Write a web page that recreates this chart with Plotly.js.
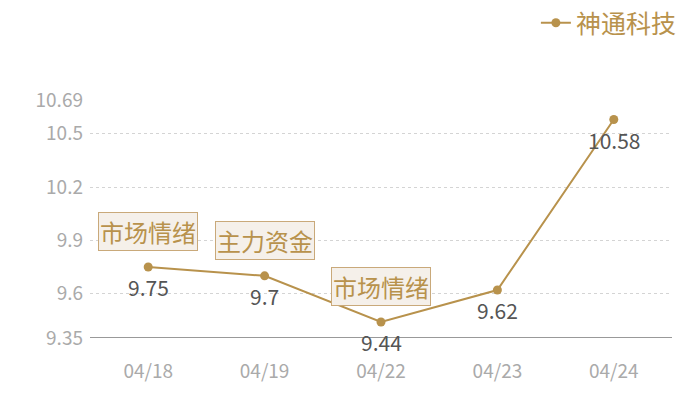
<!DOCTYPE html>
<html>
<head>
<meta charset="utf-8">
<script src="https://cdn.plot.ly/plotly-3.0.1.min.js"></script>
<style>html,body{margin:0;padding:0;background:#fff;}#chart{width:700px;height:400px;}</style>
</head>
<body>
<div id="chart"></div>
<script>
var dates = ["04/18", "04/19", "04/22", "04/23", "04/24"];
var prices = [9.75, 9.7, 9.44, 9.62, 10.58];
var seriesName = "神通科技";
var yTicks = [9.35, 9.6, 9.9, 10.2, 10.5, 10.69];
var noteDates = ["04/18", "04/19", "04/22"];
var noteValues = [9.75, 9.7, 9.44];
var noteTexts = ["市场情绪", "主力资金", "市场情绪"];

var gold = "#b8924c";
var font = "Noto Sans CJK SC, Noto Sans, sans-serif";

var trace = {
  x: dates, y: prices, name: seriesName,
  type: "scatter", mode: "lines+markers",
  line: {color: gold, width: 2},
  marker: {color: gold, size: 9},
  cliponaxis: false
};

var valueLabels = dates.map(function(d, i) {
  return {
    x: d, y: prices[i], xref: "x", yref: "y",
    text: String(prices[i]), showarrow: false,
    yanchor: "middle", yshift: -20,
    font: {color: "#555555", size: 21, family: font}
  };
});

var notes = noteDates.map(function(d, i) {
  return {
    x: d, y: noteValues[i], xref: "x", yref: "y",
    text: noteTexts[i], showarrow: false,
    yanchor: "bottom", yshift: 16,
    font: {color: gold, size: 24, family: font},
    bgcolor: "#f5f0ea", bordercolor: "#c9a97a", borderwidth: 1, borderpad: 1
  };
});

var layout = {
  width: 700, height: 400,
  margin: {l: 90, r: 28, t: 0, b: 62},
  paper_bgcolor: "#ffffff", plot_bgcolor: "#ffffff",
  font: {family: font},
  showlegend: true,
  legend: {x: 1.017, xanchor: "right", y: 1, yanchor: "top",
    font: {color: gold, size: 25, family: font}, bgcolor: "rgba(0,0,0,0)"},
  xaxis: {type: "category", range: [-0.5, 4.5], showgrid: false, zeroline: false,
    showline: false, ticks: "", ticklabelstandoff: 20,
    tickfont: {color: "#aaaaaa", size: 19, family: font}, fixedrange: true},
  yaxis: {domain: [0, 238 / 338], range: [9.35, 10.69], tickvals: yTicks, ticktext: yTicks.map(String),
    showgrid: true, gridcolor: "#d4d4d4", griddash: "dot", gridwidth: 1,
    zeroline: false, showline: false, ticks: "", ticklabelstandoff: 6,
    tickfont: {color: "#aaaaaa", size: 19, family: font}, fixedrange: true},
  shapes: [{type: "line", xref: "paper", yref: "y", x0: 0, x1: 1, y0: 9.35, y1: 9.35, line: {color: "#333333", width: 1}, layer: "below"}],
  annotations: notes.concat(valueLabels)
};

Plotly.newPlot("chart", [trace], layout, {displayModeBar: false, staticPlot: true});
</script>
</body>
</html>
